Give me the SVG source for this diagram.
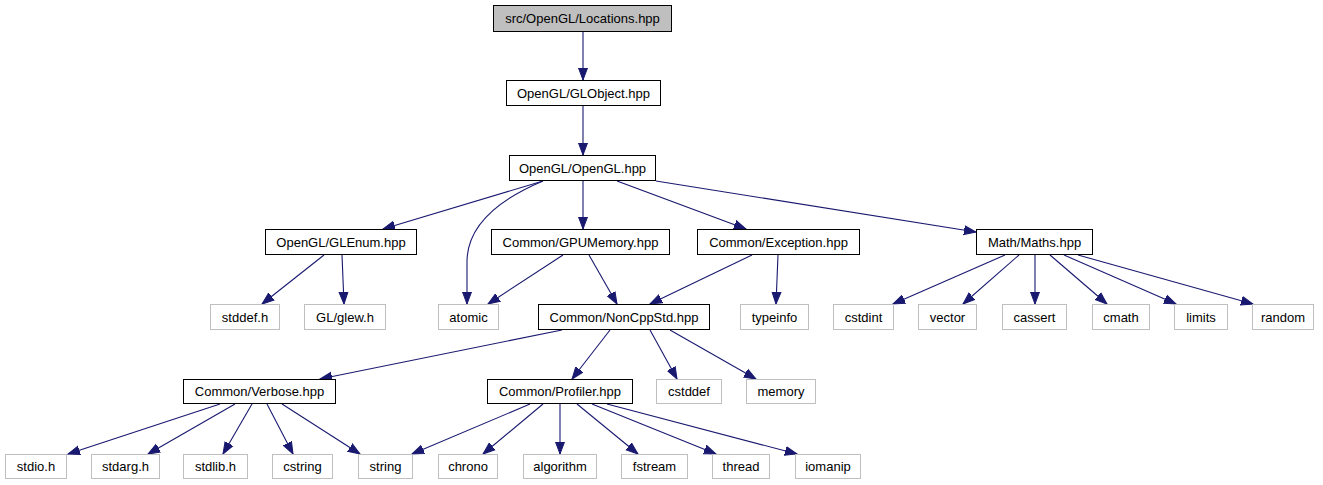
<svg xmlns="http://www.w3.org/2000/svg" width="1323" height="485" viewBox="0 0 1323 485">
<style>
.n rect{fill:#fff;stroke:#000;stroke-width:1}
.r rect{fill:#bfbfbf;stroke:#000;stroke-width:1}
.l rect{fill:#fff;stroke:#bfbfbf;stroke-width:1}
text{font-family:"Liberation Sans",Arial,sans-serif;font-size:13px;fill:#000;text-anchor:middle}
#edges path{fill:none;stroke:#191970;stroke-width:1.1;marker-end:url(#a)}
</style>
<defs>
<marker id="a" markerUnits="userSpaceOnUse" markerWidth="13" markerHeight="11" refX="12" refY="5" orient="auto" viewBox="0 0 13 10">
<path d="M0,0.5 L12,5 L0,9.5 z" fill="#191970" stroke="#191970" stroke-width="1"/>
</marker>
</defs>
<rect width="1323" height="485" fill="#fff"/>
<g id="edges">
<path d="M583,32 L583,80"/>
<path d="M583,106 L583,155"/>
<path d="M543,181 L383,229"/>
<path d="M543,181 C505,197 467,222 467,262 L467,304"/>
<path d="M583,181 L583,229"/>
<path d="M617,181 L746,229"/>
<path d="M656,181 L976,232"/>
<path d="M324,255 L262,304"/>
<path d="M342,255 L344,304"/>
<path d="M563,255 L488,304"/>
<path d="M589,255 L617,304"/>
<path d="M752,255 L650,304"/>
<path d="M778,255 L776,304"/>
<path d="M1005,255 L893,304"/>
<path d="M1019,255 L963,304"/>
<path d="M1035,255 L1035,304"/>
<path d="M1050,255 L1107,304"/>
<path d="M1064,255 L1176,304"/>
<path d="M1078,255 L1253,304"/>
<path d="M562,330 L320,379"/>
<path d="M610,330 L572,379"/>
<path d="M650,330 L677,379"/>
<path d="M670,330 L756,379"/>
<path d="M220,404 L68,454"/>
<path d="M235,404 L148,454"/>
<path d="M252,404 L223,454"/>
<path d="M267,404 L293,454"/>
<path d="M282,404 L360,454"/>
<path d="M530,404 L412,454"/>
<path d="M543,404 L483,454"/>
<path d="M560,404 L560,454"/>
<path d="M577,404 L638,454"/>
<path d="M592,404 L716,454"/>
<path d="M607,404 L797,454"/>
</g>
<g id="n_locations" class="r"><rect x="493.5" y="5.5" width="178" height="26"/><text x="582.5" y="23">src/OpenGL/Locations.hpp</text></g>
<g id="n_globject" class="n"><rect x="506.5" y="80.5" width="154" height="25"/><text x="583.5" y="97.5">OpenGL/GLObject.hpp</text></g>
<g id="n_opengl" class="n"><rect x="509.5" y="155.5" width="146" height="25"/><text x="582.5" y="172.5">OpenGL/OpenGL.hpp</text></g>
<g id="n_glenum" class="n"><rect x="265.5" y="229.5" width="151" height="25"/><text x="341" y="246.5">OpenGL/GLEnum.hpp</text></g>
<g id="n_gpumemory" class="n"><rect x="491.5" y="229.5" width="178" height="25"/><text x="580.5" y="246.5">Common/GPUMemory.hpp</text></g>
<g id="n_exception" class="n"><rect x="697.5" y="229.5" width="162" height="25"/><text x="778.5" y="246.5">Common/Exception.hpp</text></g>
<g id="n_maths" class="n"><rect x="976.5" y="229.5" width="116" height="25"/><text x="1034.5" y="246.5">Math/Maths.hpp</text></g>
<g id="n_stddef" class="l"><rect x="210.5" y="304.5" width="69" height="25"/><text x="245" y="321.5">stddef.h</text></g>
<g id="n_glew" class="l"><rect x="304.5" y="304.5" width="81" height="25"/><text x="345" y="321.5">GL/glew.h</text></g>
<g id="n_atomic" class="l"><rect x="438.5" y="304.5" width="60" height="25"/><text x="468.5" y="321.5">atomic</text></g>
<g id="n_noncppstd" class="n"><rect x="538.5" y="304.5" width="171" height="25"/><text x="624" y="321.5">Common/NonCppStd.hpp</text></g>
<g id="n_typeinfo" class="l"><rect x="740.5" y="304.5" width="68" height="25"/><text x="774.5" y="321.5">typeinfo</text></g>
<g id="n_cstdint" class="l"><rect x="833.5" y="304.5" width="60" height="25"/><text x="863.5" y="321.5">cstdint</text></g>
<g id="n_vector" class="l"><rect x="918.5" y="304.5" width="58" height="25"/><text x="947.5" y="321.5">vector</text></g>
<g id="n_cassert" class="l"><rect x="1002.5" y="304.5" width="64" height="25"/><text x="1034.5" y="321.5">cassert</text></g>
<g id="n_cmath" class="l"><rect x="1092.5" y="304.5" width="57" height="25"/><text x="1121" y="321.5">cmath</text></g>
<g id="n_limits" class="l"><rect x="1174.5" y="304.5" width="53" height="25"/><text x="1201" y="321.5">limits</text></g>
<g id="n_random" class="l"><rect x="1252.5" y="304.5" width="61" height="25"/><text x="1283" y="321.5">random</text></g>
<g id="n_verbose" class="n"><rect x="183.5" y="379.5" width="152" height="24"/><text x="259.5" y="396">Common/Verbose.hpp</text></g>
<g id="n_profiler" class="n"><rect x="487.5" y="379.5" width="145" height="24"/><text x="560" y="396">Common/Profiler.hpp</text></g>
<g id="n_cstddef" class="l"><rect x="656.5" y="379.5" width="65" height="24"/><text x="689" y="396">cstddef</text></g>
<g id="n_memory" class="l"><rect x="746.5" y="379.5" width="69" height="24"/><text x="781" y="396">memory</text></g>
<g id="n_stdio" class="l"><rect x="5.5" y="454.5" width="61" height="24"/><text x="36" y="471">stdio.h</text></g>
<g id="n_stdarg" class="l"><rect x="91.5" y="454.5" width="68" height="24"/><text x="125.5" y="471">stdarg.h</text></g>
<g id="n_stdlib" class="l"><rect x="183.5" y="454.5" width="64" height="24"/><text x="215.5" y="471">stdlib.h</text></g>
<g id="n_cstring" class="l"><rect x="272.5" y="454.5" width="60" height="24"/><text x="302.5" y="471">cstring</text></g>
<g id="n_string" class="l"><rect x="358.5" y="454.5" width="54" height="24"/><text x="385.5" y="471">string</text></g>
<g id="n_chrono" class="l"><rect x="438.5" y="454.5" width="59" height="24"/><text x="468" y="471">chrono</text></g>
<g id="n_algorithm" class="l"><rect x="523.5" y="454.5" width="73" height="24"/><text x="560" y="471">algorithm</text></g>
<g id="n_fstream" class="l"><rect x="621.5" y="454.5" width="66" height="24"/><text x="654.5" y="471">fstream</text></g>
<g id="n_thread" class="l"><rect x="712.5" y="454.5" width="57" height="24"/><text x="741" y="471">thread</text></g>
<g id="n_iomanip" class="l"><rect x="795.5" y="454.5" width="65" height="24"/><text x="828" y="471">iomanip</text></g>
</svg>
